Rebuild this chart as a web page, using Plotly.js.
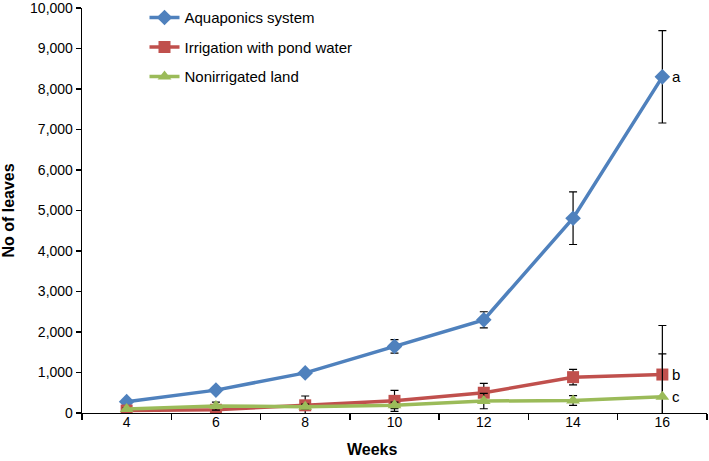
<!DOCTYPE html>
<html><head><meta charset="utf-8">
<script src="https://cdn.plot.ly/plotly-3.0.1.min.js"></script>
<style>body{margin:0;background:#fff}#c{width:709px;height:461px}</style>
</head><body><div id="c"></div>
<script>
var weeks = [4, 6, 8, 10, 12, 14, 16];
var aquaponics = [280, 565, 990, 1645, 2300, 4810, 8300];
var aquaponicsErr = [40, 50, 60, 165, 200, 650, 1140];
var pondWater = [60, 80, 190, 300, 500, 885, 950];
var pondWaterErr = [30, 60, 230, 260, 230, 190, 1210];
var nonirrigated = [100, 170, 157, 190, 295, 310, 400];
var nonirrigatedErr = [30, 100, 60, 80, 190, 120, 1060];
var seriesNames = ['Aquaponics system', 'Irrigation with pond water', 'Nonirrigated land'];
var letters = ['a', 'b', 'c'];

var errStyle = function(arr){ return {type:'data', array:arr, visible:true, color:'#000', thickness:1.2, width:4}; };
var traces = [
  {x:weeks, y:aquaponics, name:seriesNames[0], legendgroup:'g1', mode:'lines+markers', error_y:errStyle(aquaponicsErr),
   line:{color:'#4F81BD', width:3.5}, marker:{symbol:'diamond', size:12, color:'#4F81BD'}},
  {x:weeks, y:pondWater, name:seriesNames[1], legendgroup:'g2', mode:'lines+markers', error_y:errStyle(pondWaterErr),
   line:{color:'#C0504D', width:3.5}, marker:{symbol:'square', size:12, color:'#C0504D'}},
  {x:weeks, y:nonirrigated, name:seriesNames[2], legendgroup:'g3', mode:'lines+markers', error_y:errStyle(nonirrigatedErr),
   line:{color:'#9BBB59', width:3.5}, marker:{symbol:'triangle-up', size:12, color:'#9BBB59'}}
];
var last = weeks.length - 1;
var ends = [aquaponics[last], pondWater[last], nonirrigated[last]];
var annotations = letters.map(function(t, i){
  return {x:weeks[last], y:ends[i], text:t, showarrow:false, xanchor:'left', xshift:8,
          font:{family:'Liberation Sans, Arial', size:15, color:'#000'}};
});
annotations.push({xref:'x', yref:'paper', x:9.5, y:0, yshift:-36, xanchor:'center', yanchor:'middle',
  text:'<b>Weeks</b>', showarrow:false, font:{size:16}});

var layout = {
  width:709, height:461,
  margin:{l:82, r:2, t:7, b:48},
  paper_bgcolor:'#fff', plot_bgcolor:'#fff',
  font:{family:'Liberation Sans, Arial', size:14, color:'#000'},
  showlegend:true,
  legend:{x:0.10, y:1.014, xanchor:'left', yanchor:'top', bgcolor:'rgba(0,0,0,0)',
          font:{size:15}, traceorder:'grouped', tracegroupgap:7, itemwidth:30},
  xaxis:{range:[3, 17], tickvals:weeks, ticks:'', showline:true, linecolor:'#000', linewidth:1.3,
         showgrid:false, zeroline:false, ticklabelstandoff:-4,
         minor:{tickvals:[3,5,7,9,11,13,15,17], ticks:'outside', ticklen:6, tickcolor:'#000', tickwidth:1.3, showgrid:false}},
  yaxis:{range:[0, 10000], dtick:1000, tickformat:',', ticks:'outside', ticklen:5, tickcolor:'#000', tickwidth:1.3,
         showline:true, linecolor:'#000', linewidth:1.3, showgrid:false, zeroline:false, ticklabeloverflow:'allow',
         title:{text:'<b>No of leaves</b>', font:{size:16}, standoff:12}},
  annotations:annotations
};
Plotly.newPlot('c', traces, layout, {displayModeBar:false, staticPlot:true});
</script></body></html>
